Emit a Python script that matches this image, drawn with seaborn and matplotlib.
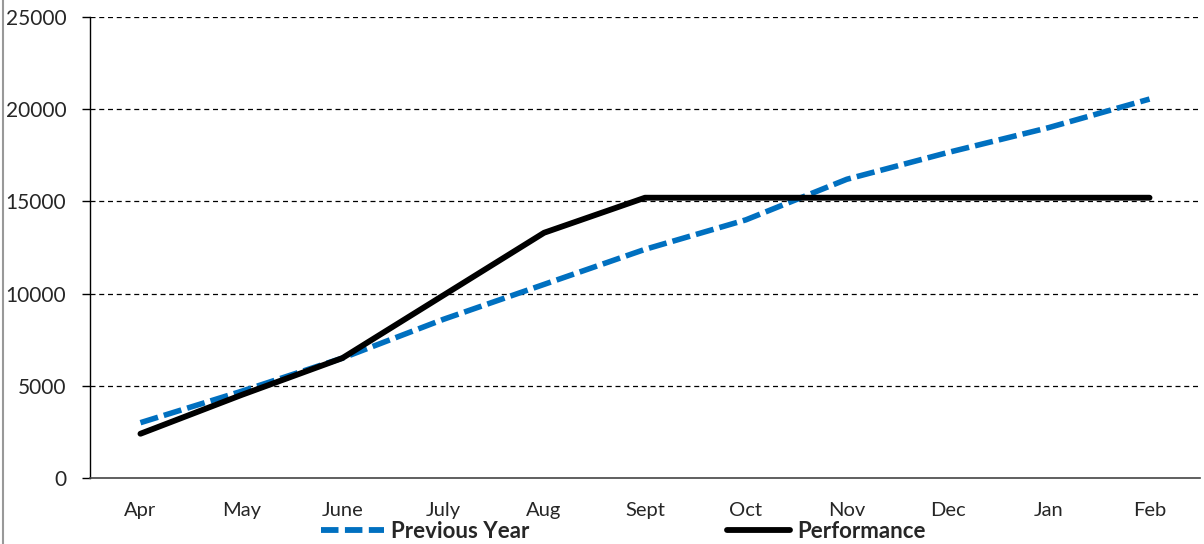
import matplotlib
matplotlib.use("Agg")
import matplotlib.pyplot as plt
import seaborn as sns
import pandas as pd
from matplotlib.lines import Line2D

months = ["Apr", "May", "June", "July", "Aug", "Sept", "Oct", "Nov", "Dec", "Jan", "Feb"]
previous_year = [3000, 4700, 6500, 8600, 10500, 12400, 14000, 16200, 17650, 19000, 20550]
performance = [2400, 4500, 6500, 9900, 13300, 15200, 15200, 15200, 15200, 15200, 15200]
y_ticks = [0, 5000, 10000, 15000, 20000, 25000]

sns.set_theme(style="white")
plt.rcParams["font.family"] = ["Lato", "DejaVu Sans"]

fig = plt.figure(figsize=(12.04, 5.44), dpi=100)
ax = fig.add_axes([90/1204, 1-478/544, (1200-90)/1204, (478-17)/544])

df = pd.DataFrame({"Month": months * 2,
                   "Value": previous_year + performance,
                   "Series": ["Previous Year"] * len(months) + ["Performance"] * len(months)})

blue = "#0070C0"
sns.lineplot(data=df[df.Series == "Previous Year"], x="Month", y="Value", ax=ax,
             color=blue, lw=4.0, sort=False, legend=False)
sns.lineplot(data=df[df.Series == "Performance"], x="Month", y="Value", ax=ax,
             color="black", lw=4.2, sort=False, legend=False)
ax.lines[0].set_dashes([3.3, 1.1])
ax.lines[0].set_dash_capstyle("butt")
ax.lines[0].set_zorder(3)
ax.lines[1].set_zorder(4)

ax.set_xlim(-0.5, len(months) - 0.5)
ax.set_ylim(0, 25000)
ax.set_yticks(y_ticks)
ax.set_yticklabels([str(v) for v in y_ticks], fontsize=15)
ax.set_xticks(range(len(months)))
ax.set_xticklabels(months, fontsize=14.5)
ax.set_xticks([i - 0.5 for i in range(len(months) + 1)], minor=True)
ax.tick_params(axis="x", which="major", length=0, pad=17)
ax.tick_params(axis="x", which="minor", length=6, width=1.2, color="#444444", direction="out")
ax.tick_params(axis="y", which="major", length=6, width=1, color="black", direction="out", pad=11, left=True)
ax.set_xlabel("")
ax.set_ylabel("")

for v in y_ticks[1:]:
    ax.axhline(v, color="black", lw=0.9, ls=(0, (4, 3)), zorder=1)

for s in ["top", "right"]:
    ax.spines[s].set_visible(False)
ax.spines["left"].set_color("black")
ax.spines["left"].set_linewidth(1.0)
ax.spines["bottom"].set_color("#444444")
ax.spines["bottom"].set_linewidth(1.2)
ax.grid(False)

# outer chart border (left edge visible)
fig.add_artist(Line2D([3/1204, 3/1204], [0, 1], transform=fig.transFigure, color="#999999", lw=1.5))

h1 = Line2D([], [], color=blue, lw=4.2, dashes=[3.0, 1.1], dash_capstyle="butt")
h2 = Line2D([], [], color="black", lw=4.2)
leg = fig.legend([h1, h2], ["Previous Year", "Performance"], ncol=2, loc="center",
                 bbox_to_anchor=(623/1204, 1-531/544), frameon=False,
                 prop={"family": ["Lato", "DejaVu Sans"], "weight": "bold", "size": 16},
                 handlelength=2.85, handletextpad=0.3, columnspacing=8.9, borderpad=0, borderaxespad=0)

fig.savefig("out.png", dpi=100)
